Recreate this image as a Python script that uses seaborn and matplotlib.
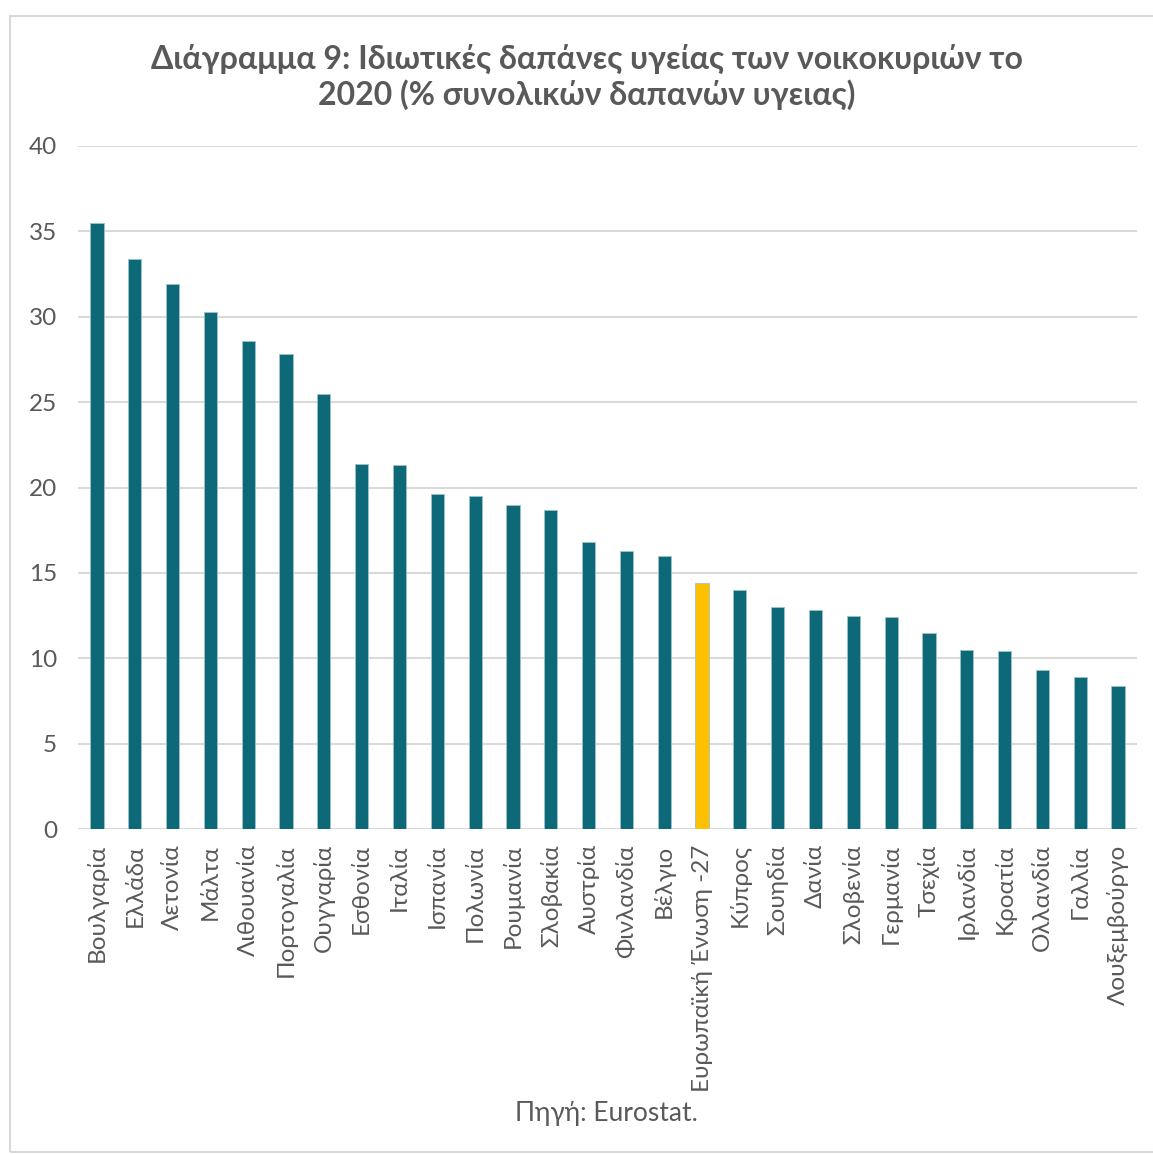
import matplotlib
matplotlib.use("Agg")
import matplotlib.pyplot as plt
import seaborn as sns
import pandas as pd
from matplotlib.patches import Rectangle

countries = ["Βουλγαρία", "Ελλάδα", "Λετονία", "Μάλτα", "Λιθουανία", "Πορτογαλία",
             "Ουγγαρία", "Εσθονία", "Ιταλία", "Ισπανία", "Πολωνία", "Ρουμανία",
             "Σλοβακία", "Αυστρία", "Φινλανδία", "Βέλγιο", "Ευρωπαϊκή Ένωση -27",
             "Κύπρος", "Σουηδία", "Δανία", "Σλοβενία", "Γερμανία", "Τσεχία",
             "Ιρλανδία", "Κροατία", "Ολλανδία", "Γαλλία", "Λουξεμβούργο"]
values = [35.5, 33.4, 31.9, 30.3, 28.6, 27.8, 25.5, 21.4, 21.3, 19.6, 19.5, 19.0,
          18.7, 16.8, 16.3, 16.0, 14.4, 14.0, 13.0, 12.8, 12.45, 12.4, 11.5,
          10.5, 10.4, 9.3, 8.9, 8.4]
highlight = "Ευρωπαϊκή Ένωση -27"
yticks = [0, 5, 10, 15, 20, 25, 30, 35, 40]

title = "Διάγραμμα 9: Ιδιωτικές δαπάνες υγείας των νοικοκυριών το\n2020 (% συνολικών δαπανών υγειας)"
source = "Πηγή: Eurostat."

sns.set_theme(style="white")
plt.rcParams['font.family'] = ['Lato', 'DejaVu Sans']

TEAL = "#0D6878"
GOLD = "#FFC000"
GRAY = "#595959"

df = pd.DataFrame({"country": countries, "value": values})
palette = {c: (GOLD if c == highlight else TEAL) for c in countries}

fig = plt.figure(figsize=(11.53, 11.54), dpi=100)
ax = fig.add_axes([0.0677, 0.2816, 0.9184, 0.5919])

sns.barplot(data=df, x="country", y="value", hue="country", palette=palette,
            dodge=False, legend=False, width=0.35, ax=ax, saturation=1,
            edgecolor="#9CC3CA", linewidth=0.6)

ax.set_ylim(0, 40)
ax.set_xlim(-0.5, len(countries) - 0.5)
ax.set_yticks(yticks)
ax.set_yticklabels([str(t) for t in yticks])
ax.yaxis.grid(True, color="#D9D9D9", linewidth=1.5)
ax.set_axisbelow(True)
for s in ax.spines.values():
    s.set_visible(False)
ax.set_xlabel("")
ax.set_ylabel("")
ax.tick_params(axis="y", length=0, pad=15, labelsize=17.5, labelcolor=GRAY)
ax.tick_params(axis="x", length=0, pad=11, labelsize=17.5, labelcolor=GRAY,
               rotation=90)
for lbl in ax.get_xticklabels():
    lbl.set_verticalalignment("top")

fig.text(0.509, 0.9335, title, ha="center", va="center", fontsize=23,
         fontweight="bold", color=GRAY, linespacing=1.22)
fig.text(0.526, 0.0347, source, ha="center", va="center", fontsize=19,
         color=GRAY)

fig.patches.append(Rectangle((10 / 1153, 0.002), 1.2, 1 - 16 / 1154 - 0.002,
                             transform=fig.transFigure, fill=False,
                             edgecolor="#D9D9D9", linewidth=1.5))

fig.savefig("out.png", dpi=100, facecolor="white")
